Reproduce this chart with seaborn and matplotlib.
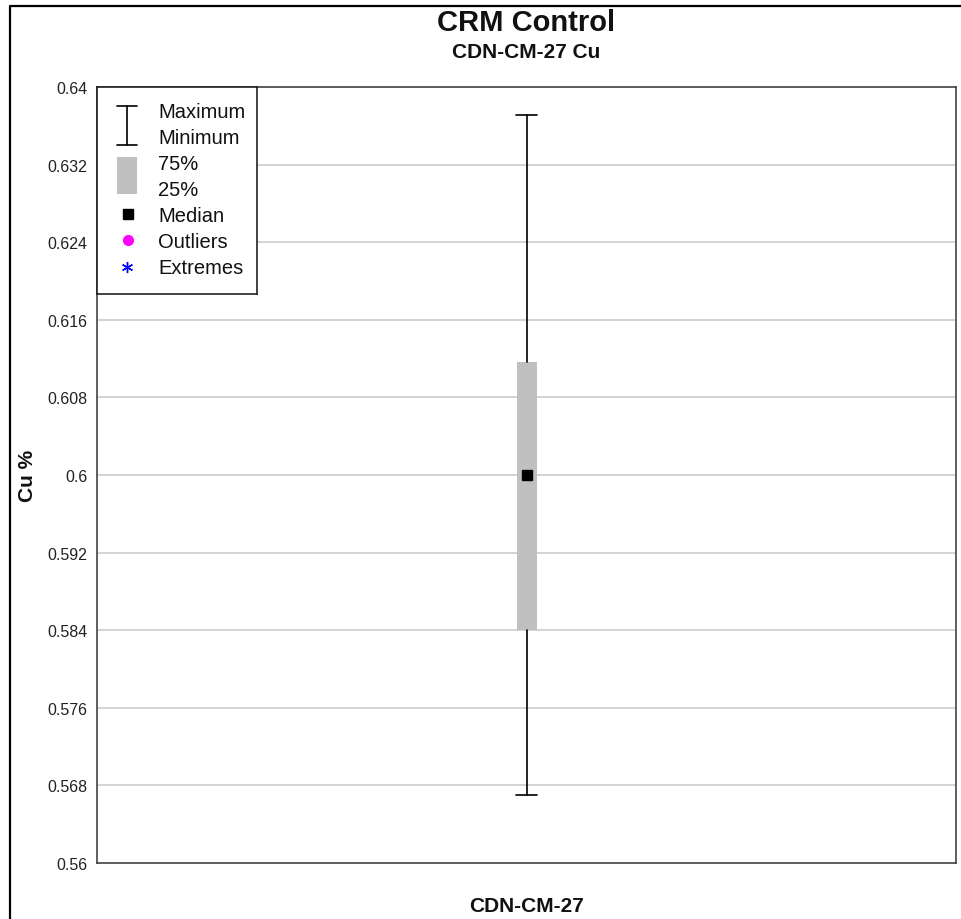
import numpy as np
import matplotlib
matplotlib.use("Agg")
import matplotlib.pyplot as plt
from matplotlib.lines import Line2D
from matplotlib.patches import Rectangle
import seaborn as sns

# Summary statistics for the control sample (Cu %)
sample = ["CDN-CM-27"]
cu_min = [0.5670]
cu_q1 = [0.5840]
cu_median = [0.6000]
cu_q3 = [0.6116]
cu_max = [0.6371]

y_ticks = [0.56, 0.568, 0.576, 0.584, 0.592, 0.6, 0.608, 0.616, 0.624, 0.632, 0.64]

legend_labels = ["Maximum", "Minimum", "75%", "25%", "Median", "Outliers", "Extremes"]

sns.set_theme(style="white")
plt.rcParams["font.family"] = ["Liberation Sans", "DejaVu Sans"]

W, H = 961, 920
fig = plt.figure(figsize=(W / 100, H / 100), dpi=100)
fig.patch.set_facecolor("white")

# plot area in pixel terms
px_l, px_r, px_t, px_b = 97, 956, 88, 864
ax = fig.add_axes([px_l / W, 1 - px_b / H, (px_r - px_l) / W, (px_b - px_t) / H])
ax.set_facecolor("white")

ax.set_xlim(-0.5, 0.5)
ax.set_ylim(0.56, 0.64)
ax.set_yticks(y_ticks)
ax.set_yticklabels([f"{t:g}" for t in y_ticks])
ax.tick_params(axis="y", length=0, pad=7, labelsize=11.5, colors="#222222")
ax.set_xticks([])
ax.yaxis.grid(True, color="#c8c8c8", linewidth=1.1)
ax.set_axisbelow(True)
for s in ax.spines.values():
    s.set_color("#444444")
    s.set_linewidth(1.2)

box_w = 20 / (px_r - px_l)
cap_w = 21 / (px_r - px_l)
stats = []
for i, name in enumerate(sample):
    stats.append(dict(label=name, whislo=cu_min[i], q1=cu_q1[i], med=cu_median[i],
                      q3=cu_q3[i], whishi=cu_max[i], fliers=[]))
ax.bxp(stats, positions=np.arange(len(sample)), widths=box_w, capwidths=cap_w,
       patch_artist=True, showfliers=False,
       boxprops=dict(facecolor="#c0c0c0", edgecolor="none", linewidth=0),
       whiskerprops=dict(color="black", linewidth=1.2),
       capprops=dict(color="black", linewidth=1.2),
       medianprops=dict(linewidth=0))
ax.plot(np.arange(len(sample)), cu_median, linestyle="none", marker="s",
        markersize=7, color="black", zorder=5)
ax.set_xticks([])

ax.set_xlabel(sample[0], fontsize=15, fontweight="bold", color="#111111")
ax.xaxis.set_label_coords(0.5, -(897 - px_b) / (px_b - px_t))
ax.xaxis.label.set_va("top")
ax.set_ylabel("Cu %", fontsize=15, fontweight="bold", color="#111111")
ax.yaxis.set_label_coords(-(px_l - 37) / (px_r - px_l), 0.5)

# titles
cx = (px_l + px_r) / 2 / W
fig.text(cx, 1 - 23 / H, "CRM Control", ha="center", va="center",
         fontsize=21, fontweight="bold", color="#111111")
fig.text(cx, 1 - 53 / H, "CDN-CM-27 Cu", ha="center", va="center",
         fontsize=15, fontweight="bold", color="#111111")

# key box in the upper-left corner, laid out in pixels
lg_l, lg_t, lg_r, lg_b = 97, 88, 257, 295
lax = fig.add_axes([lg_l / W, 1 - lg_b / H, (lg_r - lg_l) / W, (lg_b - lg_t) / H])
lax.set_xlim(lg_l, lg_r)
lax.set_ylim(lg_b, lg_t)
lax.set_xticks([])
lax.set_yticks([])
lax.set_facecolor("white")
for s in lax.spines.values():
    s.set_color("#222222")
    s.set_linewidth(1.2)

sx = 127
lax.plot([sx, sx], [107, 146], color="black", linewidth=1.2)
lax.plot([117, 137], [107, 107], color="black", linewidth=1.2)
lax.plot([117, 137], [146, 146], color="black", linewidth=1.2)
lax.add_patch(Rectangle((117, 158), 20, 37, facecolor="#c0c0c0", edgecolor="none"))
lax.plot([128], [215], marker="s", markersize=6.5, color="black", linestyle="none")
lax.plot([128], [241], marker="o", markersize=7, color="#ff00ff", linestyle="none")
lax.plot([127], [268], marker=(6, 2, 0), markersize=8, color="#0000ff",
         markeredgewidth=1.0, linestyle="none")
row_y = [112, 138, 164, 190, 216, 242, 268]
for lbl, yy in zip(legend_labels, row_y):
    lax.text(158, yy, lbl, ha="left", va="center", fontsize=14.5, color="#111111")

# outer frame of the chart panel
fig.add_artist(Line2D([10 / W, 10 / W, 1], [0, 1 - 7 / H, 1 - 7 / H],
                      transform=fig.transFigure, color="black", linewidth=1.6))

fig.savefig("out.png", dpi=100, facecolor="white")
